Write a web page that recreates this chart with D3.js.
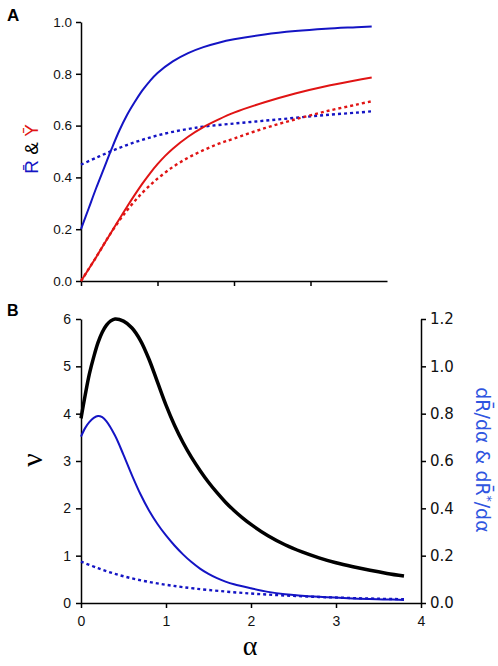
<!DOCTYPE html>
<html><head><meta charset="utf-8">
<script src="https://cdn.jsdelivr.net/npm/d3@7"></script>
<style>body{margin:0;background:#fff}svg{display:block}</style>
</head><body>
<svg id="chart" width="498" height="666"></svg>
<script>
// ---------- Panel A data ----------
const aRsolidX = [0,0.1,0.2,0.3,0.4,0.5,0.6,0.7,0.8,0.9,1.0,1.2,1.4,1.6,1.8,2.0,2.4,2.8,3.2,3.6,3.8];
const aRsolidY = [0.2,0.28,0.36,0.435,0.51,0.58,0.64,0.69,0.735,0.772,0.803,0.848,0.88,0.903,0.92,0.933,0.952,0.965,0.974,0.98,0.983];
const aRdotX = [0,0.2,0.4,0.6,0.8,1.0,1.2,1.4,1.6,2.0,2.4,2.8,3.2,3.6,3.8];
const aRdotY = [0.449,0.476,0.502,0.525,0.545,0.562,0.576,0.587,0.596,0.608,0.619,0.63,0.641,0.65,0.655];
const aYsolidX = [0,0.2,0.4,0.6,0.8,0.9,1.0,1.1,1.2,1.4,1.6,1.8,2.0,2.4,2.8,3.2,3.6,3.8];
const aYsolidY = [0,0.093,0.19,0.286,0.375,0.415,0.451,0.483,0.511,0.557,0.594,0.624,0.65,0.69,0.724,0.752,0.775,0.786];
const aYdotX = [0,0.2,0.4,0.6,0.8,1.0,1.2,1.4,1.6,1.8,2.0,2.4,2.8,3.2,3.6,3.8];
const aYdotY = [0,0.093,0.19,0.272,0.34,0.395,0.44,0.476,0.505,0.53,0.55,0.59,0.624,0.655,0.681,0.694];
const aXTicks = [0,1,2,3];
const aYTicks = [0,0.2,0.4,0.6,0.8,1.0];

// ---------- Panel B data ----------
const bNuX = [0,0.05,0.1,0.15,0.2,0.25,0.3,0.35,0.4,0.5,0.6,0.7,0.8,0.9,1.0,1.1,1.2,1.3,1.4,1.5,1.6,1.7,1.8,1.9,2.0,2.2,2.4,2.6,2.8,3.0,3.2,3.4,3.6,3.8];
const bNuY = [3.9,4.4,4.85,5.2,5.5,5.72,5.87,5.96,6.0,5.955,5.81,5.545,5.15,4.665,4.18,3.755,3.39,3.075,2.8,2.55,2.33,2.13,1.955,1.8,1.66,1.42,1.23,1.08,0.955,0.85,0.765,0.69,0.625,0.57];
const bDRX = [0,0.05,0.1,0.15,0.2,0.25,0.3,0.4,0.5,0.6,0.7,0.8,0.9,1.0,1.1,1.2,1.3,1.4,1.5,1.6,1.7,1.8,2.0,2.2,2.4,2.8,3.2,3.6,3.8];
const bDRY = [0.703,0.74,0.765,0.782,0.79,0.785,0.7675,0.7075,0.626,0.5395,0.4595,0.391,0.334,0.2855,0.243,0.2055,0.173,0.1455,0.123,0.105,0.0905,0.079,0.062,0.047,0.037,0.026,0.019,0.015,0.013];
const bDRstarX = [0,0.2,0.4,0.6,0.8,1.0,1.2,1.5,2.0,2.5,3.0,3.5,3.8];
const bDRstarY = [0.175,0.147,0.123,0.104,0.089,0.077,0.067,0.055,0.04,0.03,0.023,0.018,0.016];
const bXTicks = [0,1,2,3,4];
const bLeftTicks = [0,1,2,3,4,5,6];
const bRightTicks = [0,0.2,0.4,0.6,0.8,1.0,1.2];

const BLUE = "#1414c4", RED = "#e01414", LBLUE = "#2f55e0";
const svg = d3.select("#chart");
const CURVE = d3.curveCatmullRom.alpha(0.5);

// ---------- Panel A ----------
const xA = d3.scaleLinear().domain([0,4]).range([81,387]);
const yA = d3.scaleLinear().domain([0,1]).range([281,22]);

const gxA = svg.append("g").attr("transform","translate(0,281)")
  .call(d3.axisBottom(xA).tickValues(aXTicks).tickFormat("").tickSize(5).tickSizeOuter(0));
const gyA = svg.append("g").attr("transform","translate(81,0)")
  .call(d3.axisLeft(yA).tickValues(aYTicks).tickFormat(d3.format(".1f")).tickSize(5).tickPadding(4).tickSizeOuter(0));
[gxA, gyA].forEach(g=>{
  g.selectAll("path,line").attr("stroke","#000").attr("stroke-width",1.5);
  g.selectAll("text").attr("font-family","'Liberation Sans',Arial,sans-serif").attr("font-size",13.5).attr("fill","#111");
});

function zip(xs, ys){ return xs.map((x,i)=>[x,ys[i]]); }
const lineA = d3.line().x(d=>xA(d[0])).y(d=>yA(d[1])).curve(CURVE);
function drawA(xs, ys, color, dashed){
  svg.append("path").datum(zip(xs,ys)).attr("d",lineA).attr("fill","none")
    .attr("stroke",color).attr("stroke-width", dashed?2.4:2)
    .attr("stroke-dasharray", dashed?"3,3":null);
}
drawA(aRdotX, aRdotY, BLUE, true);
drawA(aYdotX, aYdotY, RED, true);
drawA(aRsolidX, aRsolidY, BLUE, false);
drawA(aYsolidX, aYsolidY, RED, false);

// Panel A y label
const labA = svg.append("text").attr("transform","translate(38,149) rotate(-90)")
  .attr("text-anchor","middle").attr("font-family","'Liberation Sans',Arial,sans-serif").attr("font-size",19);
labA.append("tspan").attr("fill",BLUE).text("R\u0304");
labA.append("tspan").attr("fill","#000").text(" & ");
labA.append("tspan").attr("fill",RED).text("Y\u0304");

svg.append("text").attr("x",7).attr("y",21).attr("font-family","'Liberation Sans',Arial,sans-serif")
  .attr("font-weight","bold").attr("font-size",17).text("A");

// ---------- Panel B ----------
const xB = d3.scaleLinear().domain([0,4]).range([81,421]);
const yBL = d3.scaleLinear().domain([0,6]).range([603,319]);
const yBR = d3.scaleLinear().domain([0,1.2]).range([603,319]);

const gxB = svg.append("g").attr("transform","translate(0,603)")
  .call(d3.axisBottom(xB).tickValues(bXTicks).tickFormat(d3.format("d")).tickSize(5).tickPadding(8).tickSizeOuter(0));
const gyBL = svg.append("g").attr("transform","translate(81,0)")
  .call(d3.axisLeft(yBL).tickValues(bLeftTicks).tickFormat(d3.format("d")).tickSize(5).tickPadding(5).tickSizeOuter(0));
const gyBR = svg.append("g").attr("transform","translate(421,0)")
  .call(d3.axisRight(yBR).tickValues(bRightTicks).tickFormat(d3.format(".1f")).tickSize(5).tickPadding(4).tickSizeOuter(0));
[gxB, gyBL, gyBR].forEach(g=>{
  g.selectAll("path,line").attr("stroke","#000").attr("stroke-width",1.5);
  g.selectAll("text").attr("font-family","'Liberation Sans',Arial,sans-serif").attr("font-size",14).attr("fill","#111");
});
gyBR.selectAll("text").attr("font-family","'DejaVu Sans',sans-serif").attr("font-size",15);

const lineBL = d3.line().x(d=>xB(d[0])).y(d=>yBL(d[1])).curve(CURVE);
const lineBR = d3.line().x(d=>xB(d[0])).y(d=>yBR(d[1])).curve(CURVE);
svg.append("path").datum(zip(bDRstarX,bDRstarY)).attr("d",lineBR).attr("fill","none")
  .attr("stroke",BLUE).attr("stroke-width",2.4).attr("stroke-dasharray","3,3");
svg.append("path").datum(zip(bDRX,bDRY)).attr("d",lineBR).attr("fill","none")
  .attr("stroke",BLUE).attr("stroke-width",2);
svg.append("path").datum(zip(bNuX,bNuY)).attr("d",lineBL).attr("fill","none")
  .attr("stroke","#000").attr("stroke-width",3.5);

svg.append("text").attr("x",7).attr("y",316).attr("font-family","'Liberation Sans',Arial,sans-serif")
  .attr("font-weight","bold").attr("font-size",16).text("B");

svg.append("text").attr("transform","translate(42,460) rotate(-90)").attr("text-anchor","middle")
  .attr("font-family","'Liberation Serif','Times New Roman',serif").attr("font-size",30).attr("fill","#000").text("\u03BD");

svg.append("text").attr("x",250).attr("y",655).attr("text-anchor","middle")
  .attr("font-family","'Liberation Serif','Times New Roman',serif").attr("font-size",28).attr("fill","#000").text("\u03B1");

const labR = svg.append("text").attr("transform","translate(476,460) rotate(90)").attr("text-anchor","middle")
  .attr("font-family","'DejaVu Sans',sans-serif").attr("font-size",19).attr("fill",LBLUE);
labR.append("tspan").text("dR\u0304/d\u03B1 & dR\u0304");
labR.append("tspan").attr("font-size",12).attr("dy",-7).text("*");
labR.append("tspan").attr("dy",7).text("/d\u03B1");
</script>
</body></html>
